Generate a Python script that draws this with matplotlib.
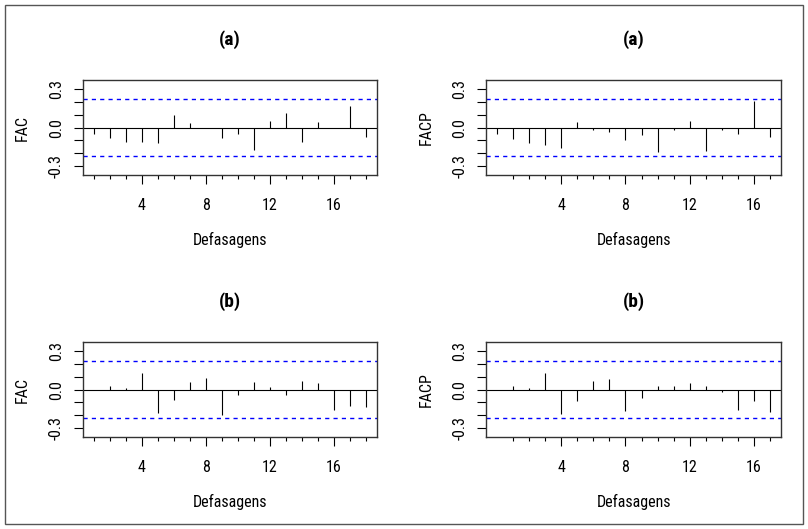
import matplotlib.pyplot as plt
from matplotlib.patches import Rectangle

# autocorrelations
lags_fac = list(range(1, 19))
lags_facp = list(range(0, 18))

fac_a = [-0.049, -0.078, -0.112, -0.112, -0.122, 0.099, 0.039, 0.0, -0.078,
         -0.049, -0.174, 0.055, 0.117, -0.112, 0.044, 0.0, 0.171, -0.070]
facp_a = [-0.047, -0.088, -0.122, -0.132, -0.158, 0.044, -0.016, -0.031, -0.099,
          -0.060, -0.192, -0.016, 0.055, -0.182, -0.016, -0.049, 0.208, -0.070]
fac_b = [-0.002, 0.028, 0.010, 0.134, -0.181, -0.078, 0.057, 0.090, -0.199,
         -0.041, 0.057, 0.018, -0.041, 0.070, 0.049, -0.163, -0.129, -0.137]
facp_b = [-0.002, 0.028, 0.010, 0.134, -0.189, -0.085, 0.065, 0.080, -0.171,
          -0.067, 0.028, 0.028, 0.049, 0.028, -0.018, -0.160, -0.085, -0.173]

conf = 0.225
titles = ["(a)", "(a)", "(b)", "(b)"]
ylabels = ["FAC", "FACP", "FAC", "FACP"]
xlabel = "Defasagens"

plt.rcParams['font.family'] = ['Roboto Condensed', 'Liberation Sans', 'DejaVu Sans']

W, H = 808, 529
fig = plt.figure(figsize=(W / 100, H / 100), dpi=100)

# outer frame
fig.patches.append(Rectangle((5 / W, 5 / H), 798 / W, 519 / H, transform=fig.transFigure,
                             fill=False, edgecolor='#555555', linewidth=1.0))

# panel boxes in pixels: left, top, right, bottom
boxes = [(82.7, 80, 377, 175.3), (486.3, 80, 780.7, 175.3),
         (82.7, 342, 377, 437.3), (486.3, 342, 780.7, 437.3)]
series = [(lags_fac, fac_a), (lags_facp, facp_a), (lags_fac, fac_b), (lags_facp, facp_b)]

for i, ((l, t, r, b), (lags, vals)) in enumerate(zip(boxes, series)):
    ax = fig.add_axes([l / W, (H - b) / H, (r - l) / W, (b - t) / H])
    ax.vlines(lags, 0, vals, color='black', linewidth=0.8)
    ax.axhline(0, color='black', linewidth=0.8)
    for c in (conf, -conf):
        ax.axhline(c, color='#0000ff', linewidth=1.0, linestyle=(0, (3, 3)))

    lo, hi = min(lags), max(lags)
    pad = (hi - lo) * 0.04
    ax.set_xlim(lo - pad, hi + pad)
    ax.set_ylim(-0.373, 0.373)

    ax.set_xticks([4, 8, 12, 16])
    ax.set_xticks(range(1, hi + 1), minor=True)
    ax.tick_params(axis='x', which='major', length=6.5, width=0.8, pad=10, labelsize=11.5)
    ax.tick_params(axis='x', which='minor', length=2.9, width=0.8)

    yt = [-0.3, -0.2, -0.1, 0.0, 0.1, 0.2, 0.3]
    ax.set_yticks(yt)
    ax.set_yticklabels(["-0.3", "", "", "0.0", "", "", "0.3"], rotation=90, va='center')
    ax.tick_params(axis='y', length=6.5, width=0.8, pad=7, labelsize=11.5)

    for sp in ax.spines.values():
        sp.set_color('#333333')
        sp.set_linewidth(1.0)

    ax.set_xlabel(xlabel, fontsize=11.5)
    ax.xaxis.set_label_coords(0.5, -65 / (b - t))
    ax.xaxis.label.set_va('center')
    ax.set_ylabel(ylabels[i], fontsize=11.5)
    ax.yaxis.set_label_coords(-60 / (r - l), 0.5)
    ax.yaxis.label.set_va('center')
    ax.text(0.5, 1 + 40 / (b - t), titles[i], transform=ax.transAxes,
            ha='center', va='center', fontsize=14, fontweight='bold')

fig.savefig("out.png", dpi=100)
